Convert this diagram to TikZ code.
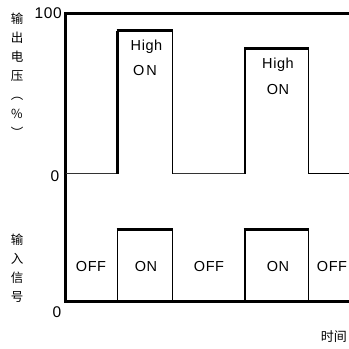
\documentclass[tikz,border=0pt]{standalone}
\usepackage{fontspec}
\setmainfont{Liberation Sans}[LetterSpace=4]
\newfontfamily\cjk{Noto Sans CJK SC}
\usetikzlibrary{calc}
\begin{document}
\begin{tikzpicture}[x=1pt,y=-1pt,
  lbl/.style={font=\fontsize{14.5}{16}\selectfont, inner sep=0pt},
  axlbl/.style={font=\fontsize{15.5}{16}\selectfont, inner sep=0pt},
  cjklbl/.style={font=\cjk\fontsize{12.5}{19}\selectfont, inner sep=0pt, align=center},
  frame/.style={line width=3pt},
  thin/.style={line width=1pt, black!80},
  side/.style={line width=1.6pt},
  heavy/.style={line width=2.6pt}]
\useasboundingbox (0,0) rectangle (349,349);
\clip (0,0) rectangle (349,349);
% frame
\coordinate (tl) at (65,13.5);
\coordinate (tr) at (350,13.5);
\coordinate (bl) at (65,301.5);
\coordinate (br) at (350,301.5);
\draw[frame] (tr) -- (tl) -- (bl) -- (br);
% upper waveform
\coordinate (u0) at (66,173.5);
\coordinate (u1) at (117.5,173.5);
\coordinate (u2) at (117.5,30.5);
\coordinate (u3) at (172.5,30.5);
\coordinate (u4) at (172.5,173.5);
\coordinate (u5) at (245,173.5);
\coordinate (u6) at (245,48.5);
\coordinate (u7) at (308.5,48.5);
\coordinate (u8) at (308.5,173.5);
\coordinate (u9) at (350,173.5);
\draw[thin] (u0) -- (u1);
\draw[heavy] (u1) -- (u2);
\draw[line width=2.2pt] ($(u2)+(-1,0)$) -- ($(u3)+(0.8,0)$);
\draw[side] (u3) -- (u4);
\draw[thin] (u4) -- (u5);
\draw[heavy] (u5) -- (u6);
\draw[line width=2.2pt] ($(u6)+(-1,0)$) -- ($(u7)+(0.8,0)$);
\draw[side] (u7) -- (u8);
\draw[line width=1.8pt] (u8) -- (u9);
% lower waveform
\coordinate (l1) at (117.5,301.5);
\coordinate (l2) at (117.5,229.5);
\coordinate (l3) at (172.5,229.5);
\coordinate (l4) at (172.5,301.5);
\coordinate (l5) at (245,301.5);
\coordinate (l6) at (245,229.5);
\coordinate (l7) at (308.5,229.5);
\coordinate (l8) at (308.5,301.5);
\draw[side] (l1) -- (l2);
\draw[heavy] ($(l2)+(-0.8,0)$) -- ($(l3)+(0.8,0)$);
\draw[side] (l3) -- (l4);
\draw[heavy] (l5) -- (l6);
\draw[heavy] ($(l6)+(-1.3,0)$) -- ($(l7)+(0.8,0)$);
\draw[side] (l7) -- (l8);
% axis labels
\node[axlbl, anchor=east] (y100) at (62,13) {100};
\node[axlbl] (y0a) at (55,176) {0};
\node[axlbl] (y0b) at (57,312) {0};
% pulse labels
\node[lbl] (h1) at (146.5,47) {High};
\node[lbl] (o1) at (145,71) {O\kern2pt N};
\node[lbl] (h2) at (278,65) {High};
\node[lbl] (o2) at (278,90) {ON};
\node[lbl] (off1) at (91,267) {OFF};
\node[lbl] (on1) at (146,267) {ON};
\node[lbl] (off2) at (209,267) {OFF};
\node[lbl] (on2) at (278,267) {ON};
\node[lbl] (off3) at (332,267) {OFF};
% cjk labels
\node[cjklbl, anchor=north] (vlab) at (17,13) {输\\出\\电\\压\\︵\\\%\\︶};
\node[cjklbl, anchor=north] (slab) at (17,234) {输\\入\\信\\号};
\node[font=\cjk\fontsize{13}{15}\selectfont, inner sep=0pt, anchor=east] (time) at (347,337) {时间};
\end{tikzpicture}
\end{document}
